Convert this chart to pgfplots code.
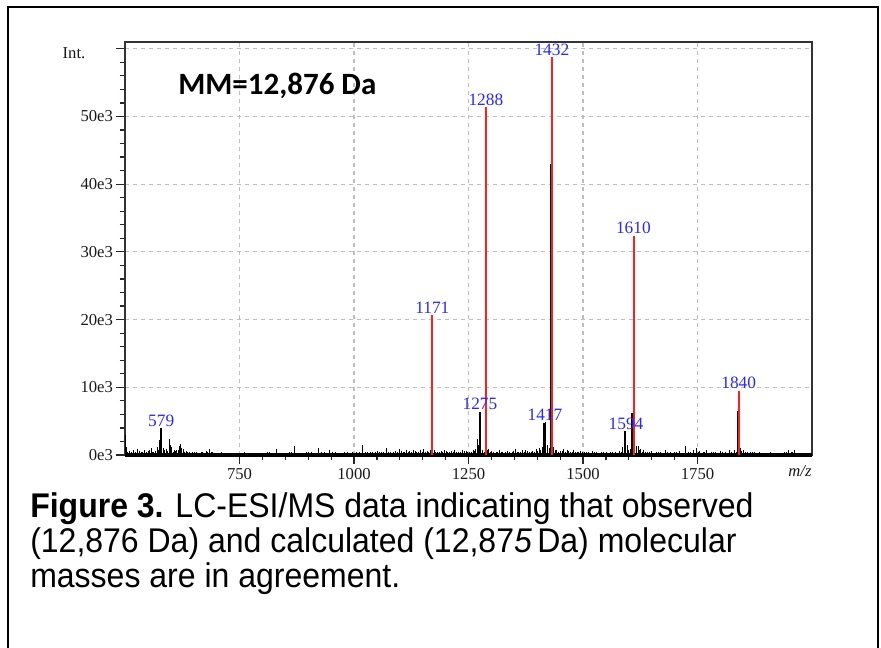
\documentclass[border=0pt]{standalone}
\usepackage{pgfplots}
\pgfplotsset{compat=1.18}
\usepackage{fontspec}
\setmainfont{Liberation Sans}
\newfontfamily\serifff{Liberation Serif}
\newfontfamily\carlito{Carlito}
\definecolor{pkred}{RGB}{255,30,30}
\definecolor{pkblue}{RGB}{40,40,255}
\definecolor{gridgray}{RGB}{190,190,190}
\begin{document}
\begin{tikzpicture}[x=0.75pt,y=0.75pt]
\path[use as bounding box] (0,0) rectangle (881,648);
\draw[line width=1.6pt] (8,-5) -- (8,641) -- (878,641) -- (878,-5);
\begin{axis}[
 at={(93.75pt,144.75pt)}, anchor=south west,
 scale only axis, width=515.25pt, height=309.75pt,
 xmin=500, xmax=2000, ymin=0, ymax=61000,
 xtick={750,1000,1250,1500,1750},
 minor x tick num=4,
 ytick={0,10000,20000,30000,40000,50000,60000},
 yticklabels={0e3,10e3,20e3,30e3,40e3,50e3,{}},
 minor y tick num=4,
 scaled y ticks=false,
 tick align=outside, xtick pos=bottom, ytick pos=left,
 major tick length=6.5pt, minor tick length=4pt,
 tick style={black!85, line width=0.9pt},
 xmajorgrids, ymajorgrids,
 grid style={gridgray, line width=0.8pt, dash pattern=on 3pt off 3pt},
 axis line style={black!80, line width=1.1pt},
 ticklabel style={font=\serifff\fontsize{12.5}{13}\selectfont, text=black!90},
 yticklabel style={xshift=1pt},
 /pgf/number format/assume math mode=true,
 /pgf/number format/set thousands separator={},
 clip=false,
]
% baseline noise
\addplot[ycomb, black, line width=0.6pt, mark=none] coordinates {
(500,2900) (503,1200) (510,600) (518,800) (527,900) (535,500) (543,700) (550,600)
(557,1000) (563,500) (570,1200) (575,2200) (583,1000) (590,900) (597,2300)
(602,1200) (607,700) (613,800) (619,1300) (622,1600) (627,900) (633,600) (640,500)
(648,400) (655,500) (662,300) (670,400) (678,600) (684,900) (688,500) (695,300)
(703,300) (710,500) (720,300) (735,200) (748,300) (760,400) (772,200) (785,300)
(797,300) (810,500) (822,300) (830,900) (845,300) (858,400) (870,1300) (882,300)
(895,400) (908,500) (923,1000) (935,400) (947,700) (960,400) (972,300) (985,500)
(997,400) (1005,500) (1019,1500) (1030,400) (1040,500) (1052,600) (1060,400)
(1071,1100) (1080,500) (1090,600) (1100,900) (1107,500) (1115,700) (1122,600)
(1130,800) (1137,500) (1145,700) (1152,900) (1160,600) (1166,800) (1175,700)
(1182,500) (1190,600) (1198,800) (1205,400) (1212,600) (1220,700) (1228,500)
(1236,800) (1245,600) (1252,500) (1260,700) (1266,900) (1270,2300) (1280,700)
(1289,2000) (1294,900) (1300,600) (1310,500) (1318,700) (1325,400) (1335,600)
(1345,500) (1352,900) (1360,500) (1368,700) (1375,800) (1383,500) (1390,600)
(1398,900) (1405,1000) (1411,1200) (1423,1500) (1436,1200) (1442,800) (1450,600)
(1458,900) (1465,700) (1472,500) (1480,800) (1488,500) (1495,600) (1503,400)
(1512,500) (1520,600) (1530,400) (1540,500) (1550,400) (1560,500) (1570,400)
(1580,600) (1587,1200) (1596,1500) (1612,2000) (1616,1300) (1620,1400) (1626,900)
(1632,700) (1640,500) (1650,600) (1660,400) (1670,500) (1680,700) (1690,500)
(1700,400) (1710,600) (1723,1300) (1730,500) (1740,700) (1748,1000) (1755,600)
(1762,500) (1770,700) (1780,400) (1790,500) (1800,600) (1810,400) (1820,700)
(1830,800) (1843,1000) (1850,700) (1858,500) (1865,400) (1875,500) (1885,400)
(1895,300) (1910,400) (1925,300) (1940,500) (1948,800) (1955,400) (1962,700)
(1970,300) (1985,300) (1995,300)
};
\addplot[ycomb, black, line width=0.6pt, mark=none] coordinates {
(506,500) (514,400) (522,500) (531,600) (539,400) (546,500) (553,700) (560,400)
(566,600) (573,800) (586,700) (593,600) (599,1500) (605,500) (610,600) (616,700)
(624,1100) (630,500) (636,400) (644,300) (651,400) (658,300) (666,400) (674,300)
(681,500) (691,400) (699,300) (715,300) (727,300) (741,200) (754,300) (766,300)
(779,300) (791,200) (804,300) (816,400) (838,300) (851,300) (864,400) (876,300)
(889,300) (901,400) (915,300) (929,400) (941,300) (953,400) (966,300) (979,400)
(991,300) (1011,400) (1024,500) (1035,400) (1046,400) (1056,500) (1065,400)
(1076,400) (1085,500) (1095,400) (1103,600) (1111,400) (1119,500) (1126,400)
(1133,600) (1141,400) (1149,500) (1156,400) (1163,500) (1169,600) (1178,400)
(1186,500) (1194,400) (1202,600) (1208,500) (1216,400) (1224,500) (1232,400)
(1240,600) (1248,400) (1256,500) (1263,600) (1272,1500) (1284,500) (1291,700)
(1297,500) (1305,400) (1314,500) (1321,400) (1330,500) (1340,400) (1348,600)
(1356,400) (1364,500) (1371,400) (1379,600) (1387,400) (1394,500) (1401,600)
(1408,700) (1426,1000) (1439,700) (1446,500) (1454,600) (1461,500) (1468,600)
(1476,400) (1484,500) (1491,400) (1499,500) (1507,400) (1516,300) (1525,400)
(1535,300) (1545,400) (1555,300) (1565,400) (1575,300) (1584,500) (1599,800)
(1603,900) (1623,700) (1629,500) (1636,400) (1645,400) (1655,300) (1665,400)
(1675,300) (1685,400) (1695,300) (1705,400) (1716,300) (1735,400) (1744,300)
(1752,400) (1758,300) (1766,400) (1775,300) (1785,400) (1795,300) (1805,400)
(1815,300) (1825,400) (1834,500) (1846,600) (1854,400) (1862,300) (1870,400)
(1880,300) (1890,300) (1903,300) (1917,300) (1932,300) (1944,400) (1951,300)
(1958,400) (1966,300) (1978,300) (1990,300)
};
% observed peaks
\addplot[ycomb, black, line width=1.3pt, mark=none] coordinates {
(579,4000) (1275,6400) (1415,4700) (1418,4800) (1429,43000) (1592,3500) (1607,6200) (1838,6500)
};
\addplot[black, line width=2.8pt, mark=none] coordinates {(500,0) (2000,0)};
% calculated peaks
\addplot[ycomb, pkred, line width=1.5pt, mark=none] coordinates {
(1171,20650) (1288,51400) (1432,58800) (1610.5,32400) (1840,9500)
};
\begin{scope}[every node/.style={pkblue, anchor=south, inner sep=1pt, font=\serifff\fontsize{13}{13}\selectfont}]
\node at (axis cs:579,4000) {579};
\node at (axis cs:1171,20650) {1171};
\node at (axis cs:1288,51400) {1288};
\node at (axis cs:1432,58800) {1432};
\node at (axis cs:1610,32400) {1610};
\node at (axis cs:1840,9500) {1840};
\node at (axis cs:1275,6400) {1275};
\node at (axis cs:1417,4800) {1417};
\node at (axis cs:1594,3500) {1594};
\end{scope}
\end{axis}
\node[font=\serifff\fontsize{12.5}{13}\selectfont, text=black!90] at (74,595) {Int.};
\node[font=\serifff\itshape\fontsize{12.5}{13}\selectfont, text=black!90] at (800,177) {m/z};
\node[anchor=base west, inner sep=0pt, font=\carlito\bfseries\fontsize{23.25}{24}\selectfont] at (178,553.5) {MM=12,876 Da};
\begin{scope}[every node/.style={anchor=base west, inner sep=0pt, yscale=1.07, transform shape, font=\fontsize{24}{26}\selectfont}]
\node at (30,130) {\textbf{Figure 3.} LC-ESI/MS data indicating that observed};
\node at (30,95) {(12,876 Da) and calculated (12,87\textit{5}\,Da) molecular};
\node at (30,60) {masses are in agreement.};
\end{scope}
\end{tikzpicture}
\end{document}
